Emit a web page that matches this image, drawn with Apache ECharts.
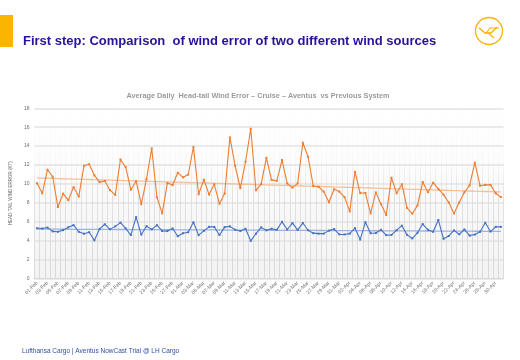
<!DOCTYPE html>
<html><head><meta charset="utf-8">
<script src="https://cdn.jsdelivr.net/npm/echarts@6/dist/echarts.min.js"></script>
<style>html,body{margin:0;padding:0;background:#fff;}#c{width:520px;height:360px;}</style>
</head><body><div id="c"></div>
<script>
// ---- data ----
const monthSpans = [['Feb', 28], ['Mar', 31], ['Apr', 30], ['May', 1]];
const aventus = [5.3,5.27,5.37,4.97,4.93,5.1,5.4,5.63,4.93,4.72,4.88,4.02,5.23,5.72,5.18,5.5,5.9,5.28,4.58,6.48,4.63,5.52,5.18,5.62,5.01,5.0,5.28,4.45,4.77,4.88,5.93,4.57,5.02,5.45,5.44,4.59,5.42,5.5,5.14,5.0,5.25,3.96,4.72,5.39,5.08,5.25,5.13,5.98,5.17,5.85,5.12,5.85,5.09,4.78,4.73,4.73,5.05,5.21,4.65,4.64,4.73,5.31,4.1,5.94,4.77,4.8,5.14,4.57,4.59,5.1,5.57,4.6,4.22,4.82,5.74,5.13,4.92,6.17,4.18,4.48,5.07,4.66,5.17,4.52,4.63,4.92,5.88,4.95,5.45,5.45];
const previous = [10.07,9.0,11.5,10.75,7.55,8.97,8.27,9.65,8.65,11.92,12.08,10.9,10.18,10.3,9.33,8.83,12.58,11.77,9.38,10.28,7.85,10.5,13.75,8.58,6.88,10.08,9.87,11.18,10.68,10.98,13.9,8.9,10.45,8.87,9.95,7.89,8.98,14.92,11.92,9.55,12.34,15.83,9.32,9.97,12.75,10.42,10.32,12.52,10.05,9.6,10.05,14.35,12.87,9.77,9.7,9.18,8.05,9.43,9.18,8.59,7.08,11.27,9.03,9.03,6.87,9.1,7.85,6.7,10.65,9.0,9.96,7.44,6.84,7.72,10.2,9.12,10.12,9.47,8.86,8.03,6.87,8.03,9.11,9.84,12.24,9.8,9.89,9.89,9.0,8.6];
const yTicks = {min: 0, max: 18, step: 2};
const pageTitle = 'First step: Comparison  of wind error of two different wind sources';
const chartTitle = 'Average Daily  Head-tail Wind Error \u2013 Cruise \u2013 Aventus  vs Previous System';
const yName = 'HEAD-TAIL WIND ERROR (KT)';
const footer = 'Lufthansa Cargo | Aventus NowCast Trial @ LH Cargo';

// categories (day-month labels)
const categories = [];
monthSpans.forEach(([m, n]) => { for (let d = 1; d <= n; d++) categories.push((d < 10 ? '0' : '') + d + '-' + m); });

function trend(arr) {
  const n = arr.length; let sx = 0, sy = 0, sxy = 0, sxx = 0;
  arr.forEach((v, i) => { sx += i; sy += v; sxy += i * v; sxx += i * i; });
  const b = (n * sxy - sx * sy) / (n * sxx - sx * sx), a = (sy - b * sx) / n;
  return arr.map((v, i) => +(a + b * i).toFixed(3));
}

const G = echarts.graphic.LinearGradient;
const chart = echarts.init(document.getElementById('c'), null, {renderer: 'canvas'});
chart.setOption({
  backgroundColor: '#ffffff',
  animation: false,
  title: [
    {text: pageTitle, left: 18, top: 30, textStyle: {fontFamily: 'Liberation Sans', fontWeight: 'bold', fontSize: 13, color: '#26139b'}},
    {text: chartTitle, left: 253, top: 87, textAlign: 'center', textStyle: {fontFamily: 'Liberation Sans', fontWeight: 'bold', fontSize: 7.3, color: '#9a9a9a'}},
    {text: footer, left: 17, top: 343, textStyle: {fontFamily: 'Liberation Sans Narrow, Liberation Sans', fontWeight: 'normal', fontSize: 6.5, color: '#2f4f9e'}}
  ],
  graphic: [
    {type: 'rect', shape: {x: 0, y: 15, width: 13, height: 32}, style: {fill: '#fbb400'}},
    {type: 'circle', shape: {cx: 489, cy: 31, r: 13.5}, style: {fill: 'none', stroke: '#f9b300', lineWidth: 1.3}},
    {type: 'polyline', shape: {points: [[479, 28], [485, 33], [491, 33], [497, 27]]}, style: {fill: 'none', stroke: '#f9b300', lineWidth: 1.4}},
    {type: 'polyline', shape: {points: [[486, 33], [490, 28], [499, 28]]}, style: {fill: 'none', stroke: '#f9b300', lineWidth: 1.2}},
    {type: 'polyline', shape: {points: [[488, 33], [494, 38]]}, style: {fill: 'none', stroke: '#f9b300', lineWidth: 1.1}}
  ],
  grid: {left: 32.4, right: 16.5, top: 108.3, bottom: 81.7, show: true, borderWidth: 0,
    backgroundColor: new G(0, 108, 0, 278, [{offset: 0, color: '#ffffff'}, {offset: 0.35, color: '#fcfcfc'}, {offset: 1, color: '#f3f3f3'}], true)},
  xAxis: {
    type: 'category', data: categories, boundaryGap: true,
    axisLine: {show: true, lineStyle: {color: '#d9d9d9', width: 1}},
    axisTick: {show: false},
    splitLine: {show: true, interval: 0, lineStyle: {color: new G(0, 108, 0, 278, [{offset: 0, color: 'rgba(220,220,220,0)'}, {offset: 0.3, color: 'rgba(220,220,220,0.15)'}, {offset: 0.5, color: 'rgba(215,215,215,0.85)'}, {offset: 1, color: 'rgba(210,210,210,1)'}], true), width: 0.8}},
    axisLabel: {interval: 1, rotate: 45, fontSize: 5, color: '#6d6d6d', fontFamily: 'Liberation Sans', margin: 4}
  },
  yAxis: {
    type: 'value', min: yTicks.min, max: yTicks.max, interval: yTicks.step,
    name: yName, nameLocation: 'middle', nameGap: 10, nameRotate: 90,
    nameTextStyle: {fontSize: 4.5, color: '#6d6d6d', fontFamily: 'Liberation Sans'},
    axisLine: {show: false}, axisTick: {show: false},
    axisLabel: {fontSize: 5, color: '#6d6d6d', fontFamily: 'Liberation Sans', margin: 5},
    splitLine: {lineStyle: {color: '#e3e3e3', width: 1.6}}
  },
  series: [
    {name: 'Previous', type: 'line', data: previous, symbol: 'rect', symbolSize: 2, showSymbol: true,
     lineStyle: {color: '#ed7d31', width: 1.1}, itemStyle: {color: '#ed7d31'}, z: 4},
    {name: 'Aventus', type: 'line', data: aventus, symbol: 'rect', symbolSize: 2, showSymbol: true,
     lineStyle: {color: '#4472c4', width: 1.1}, itemStyle: {color: '#4472c4'}, z: 4},
    {name: 'Previous trend', type: 'line', data: trend(previous), symbol: 'none',
     lineStyle: {color: '#f6bf9a', width: 1.3}, z: 3},
    {name: 'Aventus trend', type: 'line', data: trend(aventus), symbol: 'none',
     lineStyle: {color: '#9db4e0', width: 1.3}, z: 3}
  ]
});
</script></body></html>
